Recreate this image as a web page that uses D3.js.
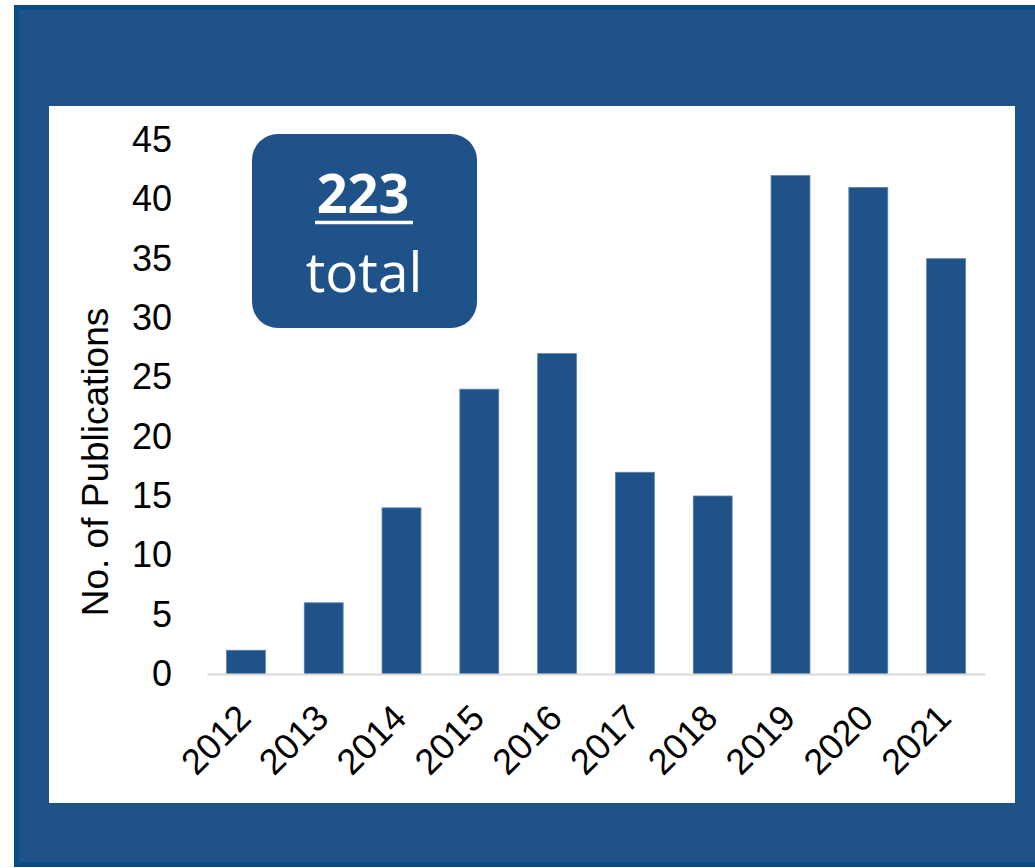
<!DOCTYPE html>
<html>
<meta charset="utf-8" />
<script src="https://d3js.org/d3.v7.min.js"></script>
<style>
  body { margin: 0; background: #ffffff; }
  svg text { font-family: "Liberation Sans", Arial, sans-serif; }
</style>
<body>
<div id="chart"></div>
<script>
// data
var years = ["2012", "2013", "2014", "2015", "2016", "2017", "2018", "2019", "2020", "2021"];
var publications = [2, 6, 14, 24, 27, 17, 15, 42, 41, 35];
var yTicks = [0, 5, 10, 15, 20, 25, 30, 35, 40, 45];
var yTitle = "No. of Publications";
var totalText = "223";
var totalLabel = "total";

var W = 1035, H = 868;
var blue = "#1f5288";

var svg = d3.select("#chart").append("svg")
    .attr("width", W)
    .attr("height", H);

// blue frame
svg.append("rect")
    .attr("x", 16.5).attr("y", 7.5)
    .attr("width", 1030).attr("height", 857)
    .attr("fill", blue)
    .attr("stroke", "#0c4c86")
    .attr("stroke-width", 5);

// white plot panel
svg.append("rect")
    .attr("x", 49).attr("y", 106)
    .attr("width", 966).attr("height", 697)
    .attr("fill", "#ffffff");

var x = d3.scaleBand()
    .domain(years)
    .range([207, 985])
    .paddingInner(0.5)
    .paddingOuter(0.25);

var y = d3.scaleLinear()
    .domain([0, 45])
    .range([674, 140]);

// bars
svg.append("g").selectAll("rect")
  .data(years)
  .enter()
  .append("rect")
    .attr("x", function(d) { return x(d); })
    .attr("y", function(d, i) { return y(publications[i]); })
    .attr("width", x.bandwidth())
    .attr("height", function(d, i) { return y(0) - y(publications[i]); })
    .attr("fill", blue)
    .attr("stroke", "#5b82ad")
    .attr("stroke-width", 0.8);

// y axis
var yAxis = svg.append("g")
    .attr("transform", "translate(207,0)")
    .call(d3.axisLeft(y).tickValues(yTicks).tickSize(0).tickPadding(35));
yAxis.select(".domain").remove();
yAxis.selectAll("text")
    .attr("font-family", "Liberation Sans, Arial, sans-serif")
    .attr("font-size", 36)
    .attr("fill", "#000");

// x axis
var xAxis = svg.append("g")
    .attr("transform", "translate(0,674)")
    .call(d3.axisBottom(x).tickSize(0).tickSizeOuter(0));
xAxis.select(".domain")
    .attr("stroke", "#d9d9d9")
    .attr("stroke-width", 2);
xAxis.selectAll("text")
    .attr("x", 0).attr("y", 0).attr("dy", null)
    .attr("text-anchor", "end")
    .attr("transform", "translate(7,46) rotate(-45)")
    .attr("font-family", "Liberation Sans, Arial, sans-serif")
    .attr("font-size", 36)
    .attr("fill", "#000");

// y axis title
svg.append("text")
    .attr("transform", "translate(108,462) rotate(-90)")
    .attr("text-anchor", "middle")
    .attr("font-size", 37)
    .attr("fill", "#000")
    .text(yTitle);

// total callout
svg.append("rect")
    .attr("x", 252).attr("y", 134)
    .attr("width", 225).attr("height", 194)
    .attr("rx", 26)
    .attr("fill", blue);

svg.append("text")
    .attr("x", 363).attr("y", 213)
    .attr("text-anchor", "middle")
    .style("font-family", "'Open Sans', sans-serif")
    .attr("font-size", 54)
    .attr("font-weight", "bold")
    .attr("fill", "#fff")
    .text(totalText);

svg.append("line")
    .attr("x1", 315).attr("x2", 413)
    .attr("y1", 222.5).attr("y2", 222.5)
    .attr("stroke", "#fff")
    .attr("stroke-width", 3.5);

svg.append("text")
    .attr("x", 364).attr("y", 292)
    .attr("text-anchor", "middle")
    .style("font-family", "'Open Sans', sans-serif")
    .attr("font-size", 55)
    .attr("fill", "#fff")
    .text(totalLabel);
</script>
</body>
</html>
